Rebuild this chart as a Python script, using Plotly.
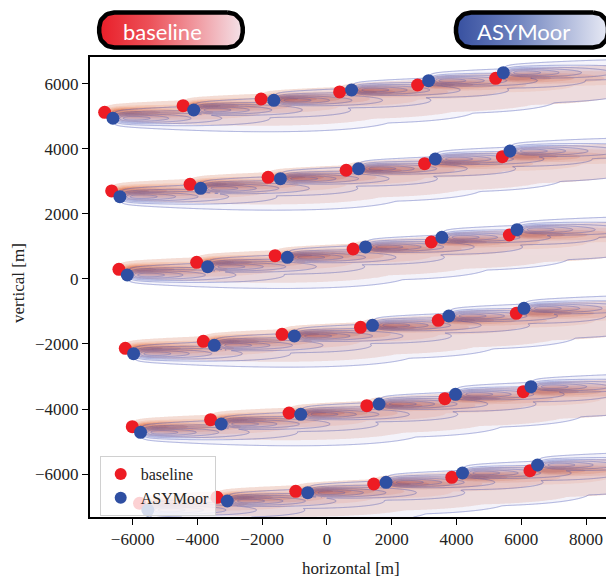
import numpy as np
import plotly.graph_objects as go

# ---------------- data ----------------
baseline_x = [
    -6862, -4440, -2031, 391, 2800, 5209,
    -6646, -4225, -1815, 594, 3015, 5415,
    -6422, -4022, -1600, 809, 3222, 5631,
    -6225, -3815, -1385, 1037, 3437, 5846,
    -6009, -3591, -1169, 1231, 3640, 6062,
    -5785, -3394, -963, 1446, 3855, 6268]
baseline_y = [
    5129, 5332, 5538, 5754, 5969, 6175,
    2708, 2914, 3129, 3345, 3548, 3763,
    298, 514, 717, 923, 1138, 1354,
    -2132, -1917, -1702, -1486, -1271, -1055,
    -4545, -4329, -4123, -3898, -3683, -3468,
    -6902, -6717, -6532, -6308, -6102, -5898]
asymoor_x = [
    -6606, -4114, -1640, 760, 3138, 5446,
    -6391, -3898, -1437, 975, 3345, 5652,
    -6163, -3683, -1222, 1191, 3548, 5868,
    -5969, -3477, -1006, 1406, 3763, 6083,
    -5754, -3262, -809, 1609, 3969, 6298,
    -5529, -3077, -594, 1825, 4185, 6502]
asymoor_y = [
    4945, 5200, 5498, 5815, 6102, 6348,
    2532, 2791, 3086, 3394, 3692, 3938,
    123, 378, 668, 985, 1283, 1517,
    -2298, -2040, -1754, -1425, -1138, -902,
    -4717, -4462, -4163, -3846, -3548, -3314,
    -7108, -6831, -6575, -6255, -5969, -5723]

series_names = ["baseline", "ASYMoor"]
x_ticks = [-6000, -4000, -2000, 0, 2000, 4000, 6000, 8000]
y_ticks = [-6000, -4000, -2000, 0, 2000, 4000, 6000]

# ---------------- styling constants ----------------
OFF = 8                      # browser body margin
W, H = 614 - OFF, 580 - OFF  # figure size so the page matches the 614x580 window
XR = [-7323, 8800]
YR = [-7323, 6830]
RED = "rgb(237,28,36)"
BLUE = "rgb(47,79,162)"
SIG0, KSPREAD, DECAY, RAMP = 95.0, 0.03, 2600.0, 250.0


def fx(px):  # reference pixel -> paper x
    return (px - OFF) / W


def fy(py):  # reference pixel -> paper y
    return 1 - (py - OFF) / H


gx = np.arange(XR[0], XR[1] + 50, 50.0)
gy = np.arange(YR[0], YR[1] + 20, 20.0)
GX, GY = np.meshgrid(gx, gy)


def wake_field(tx, ty):
    z = np.zeros_like(GX)
    for x0, y0 in zip(tx, ty):
        dx = GX - x0
        pos = dx > 0
        d = np.where(pos, dx, 0.0)
        sig = SIG0 + KSPREAD * d
        amp = np.exp(-d / DECAY) * (1 - np.exp(-d / RAMP))
        z = np.maximum(z, np.where(pos, amp * np.exp(-(GY - y0) ** 2 / (2 * sig ** 2)), 0.0))
    return z.astype(np.float32)


z_base = wake_field(baseline_x, baseline_y)
z_asym = wake_field(asymoor_x, asymoor_y)

levels = dict(start=0.035, end=0.755, size=0.12)

fig = go.Figure()

fig.add_trace(go.Contour(
    x=gx, y=gy, z=z_base, zmin=0, zmax=0.8,
    contours=dict(coloring="fill", **levels),
    colorscale=[[0, "rgba(255,255,255,0)"], [0.04, "rgba(255,255,255,0)"],
                [0.045, "rgb(244,228,226)"], [0.2, "rgb(243,210,198)"],
                [0.4, "rgb(240,180,155)"], [0.6, "rgb(232,145,110)"],
                [0.8, "rgb(215,110,75)"], [1, "rgb(190,80,55)"]],
    line=dict(width=0), opacity=0.9, showscale=False, hoverinfo="skip",
    showlegend=False))

fig.add_trace(go.Contour(
    x=gx, y=gy, z=z_asym, zmin=0, zmax=0.8,
    contours=dict(coloring="fill", **levels),
    colorscale=[[0, "rgba(255,255,255,0)"], [0.04, "rgba(255,255,255,0)"],
                [0.045, "rgb(232,232,246)"], [0.4, "rgb(190,182,225)"],
                [1, "rgb(95,80,170)"]],
    line=dict(width=1.1, color="rgba(75,88,185,0.5)"), opacity=0.3,
    showscale=False, hoverinfo="skip", showlegend=False))

fig.add_trace(go.Contour(
    x=gx, y=gy, z=z_asym,
    contours=dict(coloring="none", **levels),
    line=dict(width=1, color="rgba(80,92,185,0.32)"),
    showscale=False, hoverinfo="skip", showlegend=False))

fig.add_trace(go.Scatter(
    x=baseline_x, y=baseline_y, mode="markers", name=series_names[0],
    marker=dict(color=RED, size=13, line=dict(width=0))))
fig.add_trace(go.Scatter(
    x=asymoor_x, y=asymoor_y, mode="markers", name=series_names[1],
    marker=dict(color=BLUE, size=13, line=dict(width=0))))


# ---- pill-shaped header buttons (pixel coordinates on an overlay axis) ----
def pill(x0, x1, y0, y1, r):
    px, py = [], []
    corners = [(x1 - r, y0 + r, -90, 0), (x1 - r, y1 - r, 0, 90),
               (x0 + r, y1 - r, 90, 180), (x0 + r, y0 + r, 180, 270)]
    for cx, cy, a0, a1 in corners:
        t = np.radians(np.linspace(a0, a1, 12))
        px += list(cx + r * np.cos(t))
        py += list(cy + r * np.sin(t))
    px.append(px[0])
    py.append(py[0])
    return px, py


buttons = [
    (series_names[0], 99.5, 243.5, [[0, "rgb(233,30,40)"], [0.35, "rgb(236,80,88)"],
                                    [1, "rgb(244,226,232)"]], 163),
    (series_names[1], 457.5, 610, [[0, "rgb(55,80,160)"], [0.4, "rgb(110,130,190)"],
                                   [1, "rgb(232,234,245)"]], 525),
]
for name, bx0, bx1, cs, tx in buttons:
    px, py = pill(bx0 - OFF, bx1 - OFF, 12.5 - OFF, 47.5 - OFF, 15)
    fig.add_trace(go.Scatter(
        x=px, y=py, xaxis="x2", yaxis="y2", mode="lines", fill="toself",
        fillgradient=dict(type="horizontal", colorscale=cs),
        line=dict(color="black", width=4.5), hoverinfo="skip", showlegend=False))
    fig.add_annotation(x=fx(tx), y=fy(31), xref="paper", yref="paper",
                       xanchor="center", yanchor="middle",
                       text=name, showarrow=False,
                       font=dict(family="Lato", size=22, color="white"))

serif = "Liberation Serif"
fig.add_annotation(x=fx(352), y=fy(568), xref="paper", yref="paper",
                   xanchor="center", yanchor="middle",
                   text="horizontal [m]", showarrow=False,
                   font=dict(family=serif, size=17, color="#222"))
fig.add_annotation(x=fx(18), y=fy(283), xref="paper", yref="paper",
                   xanchor="center", yanchor="middle",
                   text="vertical [m]", showarrow=False, textangle=-90,
                   font=dict(family=serif, size=17, color="#222"))

axis_common = dict(showgrid=False, zeroline=False, showline=True, linecolor="black",
                   linewidth=1.5, mirror=True, ticks="outside", ticklen=6,
                   tickcolor="black", tickfont=dict(family=serif, size=17, color="#222"))

fig.update_layout(
    width=W, height=H, margin=dict(l=0, r=0, t=0, b=0),
    paper_bgcolor="white", plot_bgcolor="rgba(0,0,0,0)",
    font=dict(family=serif, size=16, color="#222"),
    xaxis=dict(domain=[fx(90), 1], range=XR, tickvals=x_ticks,
               ticktext=[f"{v:.0f}".replace("-", "\u2212") for v in x_ticks],
               **axis_common),
    yaxis=dict(domain=[fy(517), fy(57)], range=YR, tickvals=y_ticks,
               ticktext=[f"{v:.0f}".replace("-", "\u2212") for v in y_ticks],
               **axis_common),
    xaxis2=dict(domain=[0, 1], range=[0, W], visible=False, anchor="y2"),
    yaxis2=dict(domain=[0, 1], range=[H, 0], visible=False, anchor="x2"),
    legend=dict(x=fx(100), y=fy(516), xanchor="left", yanchor="bottom",
                bgcolor="rgba(255,255,255,0.8)", bordercolor="#d0d0d0",
                borderwidth=1, font=dict(family=serif, size=16, color="#222"),
                itemsizing="constant"),
)

fig.write_html("out.html")
